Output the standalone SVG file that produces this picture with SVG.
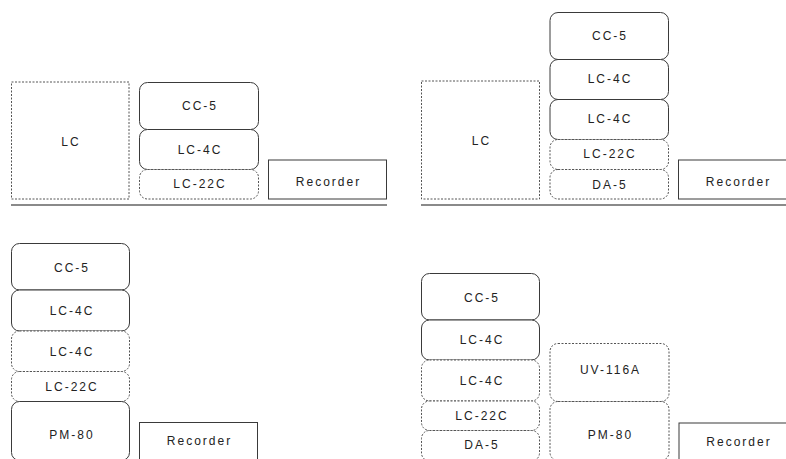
<svg xmlns="http://www.w3.org/2000/svg" width="786" height="459" viewBox="0 0 786 459">
<style>
.solid{fill:#fff;stroke:#3a3a3a;stroke-width:1}
.dash{fill:#fff;stroke:#555;stroke-width:1;stroke-dasharray:2 1.5}
.rec{fill:#fff;stroke:#3a3a3a;stroke-width:1}
.floor{stroke:#8a8a8a;stroke-width:2}
text{font-family:"Liberation Sans",Arial,sans-serif;font-size:12px;letter-spacing:2px;fill:#222;text-anchor:middle}
</style>
<rect width="786" height="459" fill="#fff"/>
<g id="connectors">
<line class="floor" x1="11" y1="205" x2="387" y2="205"/>
<line class="floor" x1="421" y1="205" x2="786" y2="205"/>
</g>
<!-- Panel 1 -->
<g id="p1-lc"><rect class="dash" x="11.5" y="82" width="117.5" height="117"/><text x="71" y="146">LC</text></g>
<g id="p1-cc5"><rect class="solid" x="139.5" y="82.5" width="119" height="47" rx="8"/><text x="200" y="110">CC-5</text></g>
<g id="p1-lc4c"><rect class="solid" x="139.5" y="129.5" width="119" height="40" rx="8"/><text x="200" y="153.5">LC-4C</text></g>
<g id="p1-lc22c"><rect class="dash" x="139.5" y="169.5" width="119" height="29.5" rx="8"/><text x="200" y="188">LC-22C</text></g>
<g id="p1-rec"><rect class="rec" x="268.5" y="160" width="118" height="39"/><text x="328.5" y="185.5">Recorder</text></g>
<!-- Panel 2 -->
<g id="p2-lc"><rect class="dash" x="421.5" y="81" width="118" height="118"/><text x="481.5" y="144.5">LC</text></g>
<g id="p2-cc5"><rect class="solid" x="550" y="12.5" width="118.5" height="47" rx="8"/><text x="610" y="40">CC-5</text></g>
<g id="p2-lc4c-a"><rect class="solid" x="550" y="59.5" width="118.5" height="40" rx="8"/><text x="610" y="83.3">LC-4C</text></g>
<g id="p2-lc4c-b"><rect class="solid" x="550" y="99.5" width="118.5" height="40" rx="8"/><text x="610" y="123">LC-4C</text></g>
<g id="p2-lc22c"><rect class="dash" x="550" y="139.5" width="118.5" height="30" rx="8"/><text x="610" y="158.3">LC-22C</text></g>
<g id="p2-da5"><rect class="dash" x="550" y="169.5" width="118.5" height="29.5" rx="8"/><text x="610" y="188.5">DA-5</text></g>
<g id="p2-rec"><rect class="rec" x="678.5" y="160" width="118" height="39"/><text x="738.5" y="185.5">Recorder</text></g>
<!-- Panel 3 -->
<g id="p3-cc5"><rect class="solid" x="11.5" y="243.5" width="118" height="46.5" rx="8"/><text x="72" y="272">CC-5</text></g>
<g id="p3-lc4c-a"><rect class="solid" x="11.5" y="290" width="118" height="41" rx="8"/><text x="72" y="315">LC-4C</text></g>
<g id="p3-lc4c-b"><rect class="dash" x="11.5" y="331" width="118" height="40.5" rx="8"/><text x="72" y="355.5">LC-4C</text></g>
<g id="p3-lc22c"><rect class="dash" x="11.5" y="371.5" width="118" height="30" rx="8"/><text x="72" y="390.5">LC-22C</text></g>
<g id="p3-pm80"><rect class="solid" x="11.5" y="401.5" width="118" height="59" rx="8"/><text x="72" y="439">PM-80</text></g>
<g id="p3-rec"><rect class="rec" x="139.5" y="422.5" width="118" height="50"/><text x="199.5" y="445.3">Recorder</text></g>
<!-- Panel 4 -->
<g id="p4-cc5"><rect class="solid" x="421.5" y="273.5" width="118" height="46.5" rx="8"/><text x="482" y="301.5">CC-5</text></g>
<g id="p4-lc4c-a"><rect class="solid" x="421.5" y="320" width="118" height="40" rx="8"/><text x="482" y="344.3">LC-4C</text></g>
<g id="p4-lc4c-b"><rect class="dash" x="421.5" y="360" width="118" height="41" rx="8"/><text x="482" y="385">LC-4C</text></g>
<g id="p4-lc22c"><rect class="dash" x="421.5" y="401" width="118" height="29.5" rx="8"/><text x="482" y="420">LC-22C</text></g>
<g id="p4-da5"><rect class="dash" x="421.5" y="430.5" width="118" height="30.5" rx="8"/><text x="482" y="448.5">DA-5</text></g>
<g id="p4-uv116a"><rect class="dash" x="550" y="343.5" width="119" height="58" rx="8"/><text x="610.5" y="373.5">UV-116A</text></g>
<g id="p4-pm80"><rect class="dash" x="550" y="401.5" width="119" height="59" rx="8"/><text x="610.5" y="439">PM-80</text></g>
<g id="p4-rec"><rect class="rec" x="679" y="423" width="118" height="50"/><text x="739" y="446">Recorder</text></g>
</svg>
